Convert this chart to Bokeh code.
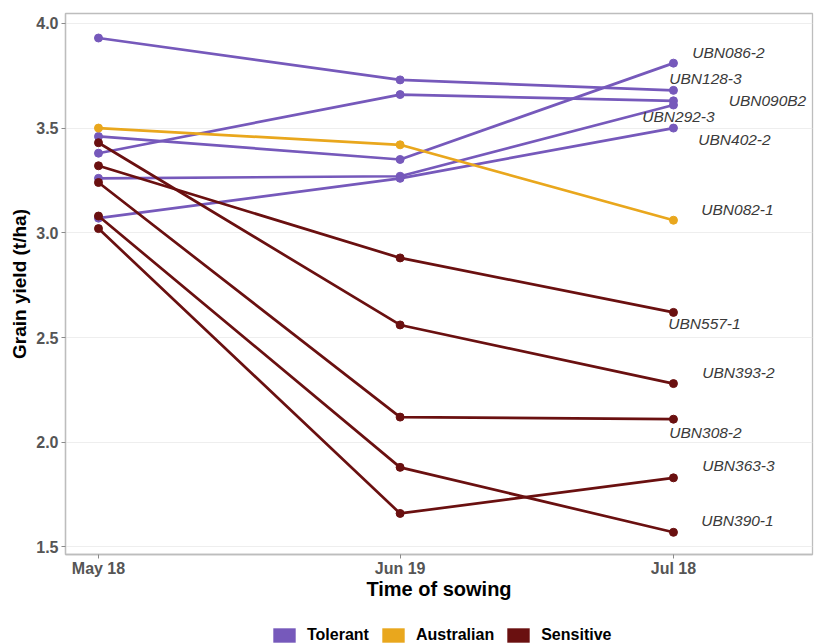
import math
import pandas as pd
from bokeh.plotting import figure
from bokeh.layouts import column
from bokeh.models import (ColumnDataSource, Range1d, FixedTicker, DatetimeTickFormatter,
                          NumeralTickFormatter, Legend, LegendItem)
from bokeh.core.properties import value
from bokeh.embed import file_html
from bokeh.resources import INLINE

# Sowing dates and grain yield (t/ha) per genotype
sowing_dates = ["2018-05-18", "2018-06-19", "2018-07-18"]
genotypes = ["UBN086-2", "UBN128-3", "UBN090B2", "UBN292-3", "UBN402-2",
             "UBN082-1",
             "UBN557-1", "UBN393-2", "UBN308-2", "UBN363-3", "UBN390-1"]
groups = ["Tolerant"] * 5 + ["Australian"] + ["Sensitive"] * 5
yield_may18 = [3.46, 3.93, 3.38, 3.26, 3.07, 3.50, 3.32, 3.43, 3.24, 3.02, 3.08]
yield_jun19 = [3.35, 3.73, 3.66, 3.27, 3.26, 3.42, 2.88, 2.56, 2.12, 1.66, 1.88]
yield_jul18 = [3.81, 3.68, 3.63, 3.61, 3.50, 3.06, 2.62, 2.28, 2.11, 1.83, 1.57]
group_order = ["Tolerant", "Australian", "Sensitive"]
y_ticks = [1.5, 2.0, 2.5, 3.0, 3.5, 4.0]

# label placement next to the last point (pixels, +y is down)
label_dx = [55, 32, 94, 5, 61, 64, 31, 65, 32, 65, 64]
label_dy = [-11, -12, 0, 11, 11, -11, 11, -11, 13, -12, -12]

group_colors = {"Tolerant": "#7659bb", "Australian": "#e9a71d", "Sensitive": "#6a1010"}
FONT = "Liberation Sans"

dates = pd.to_datetime(sowing_dates)
x_start = dates[0] - pd.Timedelta(hours=84)
x_end = dates[-1] + pd.Timedelta(hours=354)

p = figure(width=817, height=616, x_axis_type="datetime",
           x_range=Range1d(x_start, x_end), y_range=Range1d(1.464, 4.047),
           output_backend="svg", toolbar_location=None,
           min_border_left=65, min_border_right=5, min_border_top=13, min_border_bottom=62)

p.background_fill_color = "white"
p.border_fill_color = "white"
p.outline_line_color = "#bdbdbd"
p.outline_line_width = 1.3
p.xgrid.grid_line_color = None
p.ygrid.grid_line_color = "#eeeeee"
p.ygrid.grid_line_width = 1.2

for i, name in enumerate(genotypes):
    src = ColumnDataSource(dict(x=dates, y=[yield_may18[i], yield_jun19[i], yield_jul18[i]]))
    c = group_colors[groups[i]]
    p.line("x", "y", source=src, line_color=c, line_width=2.7)
    p.scatter("x", "y", source=src, size=8, fill_color=c, line_color=c)

labels = ColumnDataSource(dict(x=[dates[-1]] * len(genotypes), y=yield_jul18,
                               text=genotypes, dx=label_dx, dy=label_dy))
p.text(x="x", y="y", text="text", source=labels, x_offset="dx", y_offset="dy",
       text_font=value(FONT), text_font_style="italic", text_font_size="15.5px",
       text_align="center", text_baseline="middle", text_color="#3a3a3a")

# axes
p.xaxis.ticker = FixedTicker(ticks=[d.value / 1e6 for d in dates])
fmt = "%b %d"
p.xaxis.formatter = DatetimeTickFormatter(days=fmt, months=fmt, years=fmt, hours=fmt,
                                          minutes=fmt, seconds=fmt, milliseconds=fmt,
                                          microseconds=fmt, hourmin=fmt, minsec=fmt)
p.yaxis.ticker = FixedTicker(ticks=y_ticks)
p.yaxis.formatter = NumeralTickFormatter(format="0.0")

for ax in (p.xaxis[0], p.yaxis[0]):
    ax.axis_line_color = "#bdbdbd"
    ax.axis_line_width = 1.3
    ax.major_tick_line_color = "#8a8a8a"
    ax.major_tick_in = 0
    ax.major_tick_out = 4
    ax.minor_tick_line_color = None
    ax.major_label_text_font = FONT
    ax.major_label_text_font_style = "bold"
    ax.major_label_text_font_size = "16px"
    ax.major_label_text_color = "#555555"
    ax.axis_label_text_font = FONT
    ax.axis_label_text_font_style = "bold"
    ax.axis_label_text_color = "black"

p.xaxis.axis_label = "Time of sowing"
p.xaxis.axis_label_text_font_size = "20px"
p.xaxis.major_label_standoff = 1
p.xaxis.axis_label_standoff = -2
p.yaxis.axis_label = "Grain yield (t/ha)"
p.yaxis.axis_label_text_font_size = "19px"
p.yaxis.major_label_standoff = 3
p.yaxis.axis_label_standoff = 3

# legend strip under the chart: filled keys for the three groups
lg = figure(width=817, height=28, x_range=Range1d(0, 1), y_range=Range1d(0, 1),
            output_backend="svg", toolbar_location=None,
            x_axis_location=None, y_axis_location=None, min_border=0)
lg.outline_line_color = None
lg.grid.grid_line_color = None
items = []
for g in group_order:
    c = group_colors[g]
    r = lg.quad(left=[math.nan], right=[math.nan], top=[math.nan], bottom=[math.nan],
                fill_color=c, line_color=None)
    items.append(LegendItem(label=g, renderers=[r]))
legend = Legend(items=items, orientation="horizontal", location=(205, 0),
                glyph_width=28, glyph_height=18, label_standoff=9, spacing=10,
                padding=0, margin=0, border_line_alpha=0, background_fill_alpha=0,
                label_text_font=FONT, label_text_font_style="bold",
                label_text_font_size="16px", label_text_color="black")
lg.add_layout(legend)

layout = column(p, lg, spacing=0)
open("out.html", "w").write(file_html(layout, INLINE))
